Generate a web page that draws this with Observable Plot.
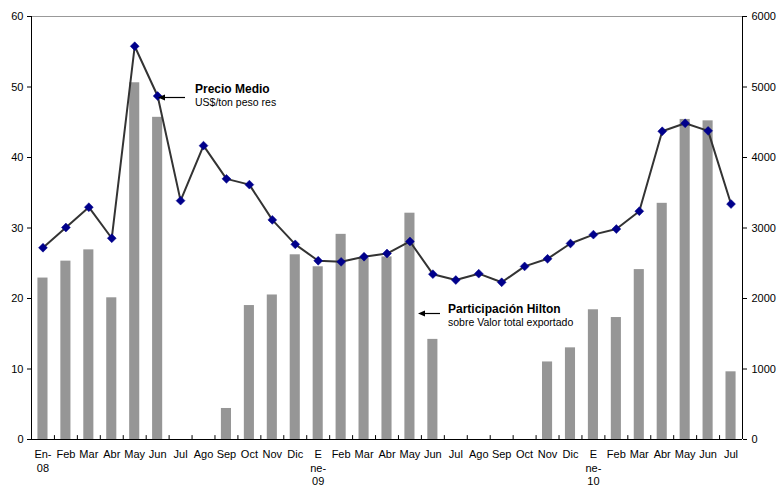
<!DOCTYPE html>
<html><head><meta charset="utf-8">
<script src="https://cdn.jsdelivr.net/npm/d3@7"></script>
<script src="https://cdn.jsdelivr.net/npm/@observablehq/plot@0.6"></script>
<style>body{margin:0;background:#fff} svg{display:block}</style>
</head><body><div id="chart"></div>
<script>
const months = ["En-\n08","Feb","Mar","Abr","May","Jun","Jul","Ago","Sep","Oct","Nov","Dic",
  "E\nne-\n09","Feb","Mar","Abr","May","Jun","Jul","Ago","Sep","Oct","Nov","Dic",
  "E\nne-\n10","Feb","Mar","Abr","May","Jun","Jul"];
const hilton = [22.9, 25.3, 26.9, 20.1, 50.6, 45.7, 0, 0, 4.4, 19.0, 20.5, 26.2,
  24.5, 29.1, 25.7, 25.9, 32.1, 14.2, 0, 0, 0, 0, 11.0, 13.0,
  18.4, 17.3, 24.1, 33.5, 45.4, 45.2, 9.6];
const precio = [2720, 3007, 3295, 2855, 5578, 4872, 3388, 4168, 3697, 3615, 3115, 2768,
  2535, 2520, 2593, 2638, 2809, 2345, 2262, 2352, 2230, 2455, 2563, 2780,
  2906, 2985, 3238, 4372, 4485, 4378, 3340];
const leftTicks = [0, 10, 20, 30, 40, 50, 60];
const rightTicks = [0, 1000, 2000, 3000, 4000, 5000, 6000];

const data = months.map((m, i) => ({i, m, hilton: hilton[i], precio: precio[i]}));
const W = 777, H = 487, mL = 31, mR = 35, mT = 16, mB = 48;
const step = (W - mL - mR) / months.length;
const ratio = 100; // right axis / left axis

const chart = Plot.plot({
  width: W, height: H,
  marginLeft: mL, marginRight: mR, marginTop: mT, marginBottom: mB,
  style: {fontFamily: "'Liberation Sans', Arial, sans-serif", fontSize: "11px", color: "#000", background: "#fff"},
  x: {type: "band", domain: d3.range(months.length), paddingInner: 0.56, paddingOuter: 0.28, round: false, axis: null, label: null},
  y: {domain: [0, 60], axis: null, label: null},
  marks: [
    Plot.ruleY([60], {stroke: "#999", strokeWidth: 1}),
    Plot.barY(data, {x: "i", y: "hilton", fill: "#969696"}),
    Plot.line(data, {x: "i", y: d => d.precio / ratio, stroke: "#333", strokeWidth: 2}),
    Plot.dot(data, {x: "i", y: d => d.precio / ratio, symbol: "diamond2", r: 4, fill: "#00008b", stroke: "#00008b", strokeWidth: 0.5}),
    Plot.axisY(leftTicks, {anchor: "left", tickSize: 4, tickPadding: 4, fontSize: 11, label: null}),
    Plot.axisY(rightTicks.map(v => v / ratio), {anchor: "right", tickSize: 4, tickPadding: 5, fontSize: 11, label: null, tickFormat: d => String(Math.round(d * ratio))}),
    Plot.axisX(d3.range(months.length), {anchor: "bottom", tickSize: 0, tickPadding: 9, fontSize: 11, lineHeight: 1.24, label: null, tickFormat: i => months[i]}),
    Plot.ruleX(d3.range(months.length - 1), {dx: step / 2, y1: 0, y2: 0.55, stroke: "#000"}),
    Plot.ruleX([0], {dx: -step / 2, y1: 0, y2: 60, stroke: "#000"}),
    Plot.ruleX([months.length - 1], {dx: step / 2, y1: 0, y2: 60, stroke: "#000"}),
    Plot.ruleY([0], {stroke: "#000"})
  ]
});

document.getElementById("chart").appendChild(chart);

// Annotations
const svg = d3.select(chart);
const g = svg.append("g").attr("font-family", "'Liberation Sans', Arial, sans-serif").attr("fill", "#000").attr("text-anchor", "start");
function note(x, y, title, sub, ax1, ax2, ay) {
  g.append("text").attr("x", x).attr("y", y).attr("font-size", 12).attr("font-weight", "bold").text(title);
  g.append("text").attr("x", x).attr("y", y + 13).attr("font-size", 10.5).text(sub);
  g.append("line").attr("x1", ax1).attr("x2", ax2 + 5).attr("y1", ay).attr("y2", ay).attr("stroke", "#000").attr("stroke-width", 1.2);
  g.append("path").attr("d", `M${ax2},${ay} L${ax2 + 7},${ay - 3} L${ax2 + 7},${ay + 3} Z`).attr("fill", "#000");
}
note(195, 93, "Precio Medio", "US$/ton peso res", 185, 158, 97.5);
note(448, 313, "Participación Hilton", "sobre Valor total exportado", 440, 418, 313.5);
</script>
</body></html>
